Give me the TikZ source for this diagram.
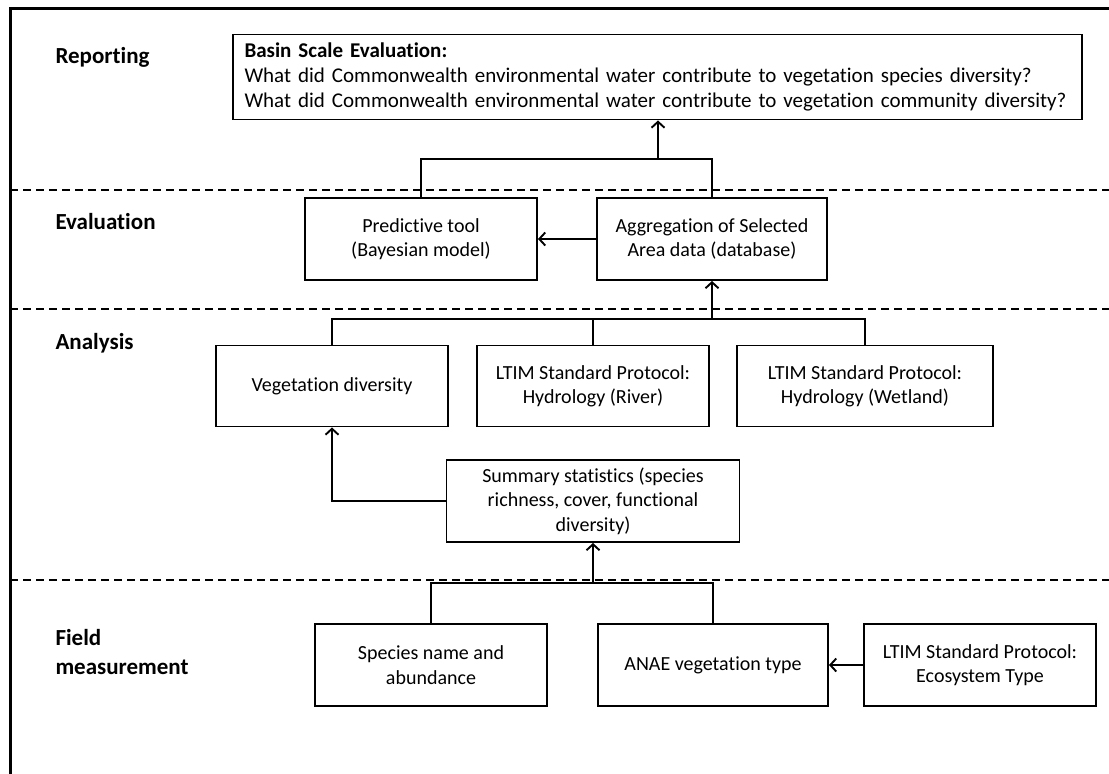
\documentclass[tikz,border=0pt]{standalone}
\usepackage{fontspec}
\setmainfont{Carlito}[Ligatures=NoCommon]
\usetikzlibrary{arrows.meta}

\tikzset{
  box/.style={draw, line width=1.9pt, align=center, inner sep=2pt,
    minimum height=82pt, font=\fontsize{20}{24.4}\selectfont},
  tier/.style={anchor=west, align=left, font=\fontsize{23}{28.5}\selectfont\bfseries},
  arr/.style={-{Straight Barb[length=6pt,width=13pt]}},
  sepline/.style={line width=1.3pt, dash pattern=on 8pt off 5pt},
  link/.style={line width=1.9pt}
}

\begin{document}
\begin{tikzpicture}[x=1pt,y=-1pt]
			%%%%% START %%%%%
			\useasboundingbox (0,0) rectangle (1109,774);
			
			% frame and tier separators
			\draw[line width=3pt] (10,774) -- (10,8) -- (1109,8);
			\draw[sepline] (10,190) -- (1109,190);
			\draw[sepline] (10,309) -- (1109,309);
			\draw[sepline] (10,580) -- (1109,580);
			
			\node[tier] (lreport) at (52,57) {Reporting};
			\node[tier] (leval) at (52,222) {Evaluation};
			\node[tier] (lanalysis) at (52,343) {Analysis};
			\node[tier] (lfield) at (52,652) {Field\\measurement};
			
			% reporting
			\node[box, align=left, text width=826pt, inner xsep=11.5pt, minimum height=85pt,
			  font=\fontsize{21}{24.6}\selectfont] (basin) at (657.5,77)
			  {\textbf{Basin Scale Evaluation:}\\
			   What did Commonwealth environmental water contribute to vegetation species diversity?\\
			   What did Commonwealth environmental water contribute to vegetation community diversity?};
			
			% evaluation
			\node[box, minimum width=232pt] (predict) at (421,239) {Predictive tool\\(Bayesian model)};
			\node[box, minimum width=230pt] (aggreg) at (712,239) {Aggregation of Selected\\Area data (database)};
			
			% analysis
			\node[box, minimum width=232pt, minimum height=81pt] (vegdiv) at (332,386) {Vegetation diversity};
			\node[box, minimum width=232pt, minimum height=81pt] (river) at (593,386) {LTIM Standard Protocol:\\Hydrology (River)};
			\node[box, minimum width=256pt, minimum height=81pt] (wetland) at (865,386) {LTIM Standard Protocol:\\Hydrology (Wetland)};
			\node[box, minimum width=293pt] (summary) at (593,501) {Summary statistics (species\\richness, cover, functional\\diversity)};
			
			% field measurement
			\node[box, minimum width=232pt] (species) at (431,665) {Species name and\\abundance};
			\node[box, minimum width=230pt] (anae) at (713,665) {ANAE vegetation type};
			\node[box, minimum width=232pt] (ecotype) at (980,665) {LTIM Standard Protocol:\\Ecosystem Type};
			
			% connectors
			\coordinate (topjoin) at (658,159);
			\draw[link] (predict.north) |- (topjoin) -| (aggreg.north);
			\draw[link, arr] (topjoin) -- (topjoin |- basin.south);
			\draw[link, arr] (aggreg.west) -- (predict.east);
			
			\coordinate (anajoin) at (712,319);
			\draw[link] (vegdiv.north) |- (anajoin) -| (wetland.north);
			\draw[link] (river.north) -- (river.north |- anajoin);
			\draw[link, arr] (anajoin) -- (aggreg.south);
			\draw[link, arr] (summary.west) -| (vegdiv.south);
			
			\coordinate (fieldjoin) at (593,583);
			\draw[link] (species.north) |- (fieldjoin) -| (anae.north);
			\draw[link, arr] (fieldjoin) -- (summary.south);
			\draw[link, arr] (ecotype.west) -- (anae.east);
			
			%%%%% END %%%%%
		\end{tikzpicture}
\end{document}
